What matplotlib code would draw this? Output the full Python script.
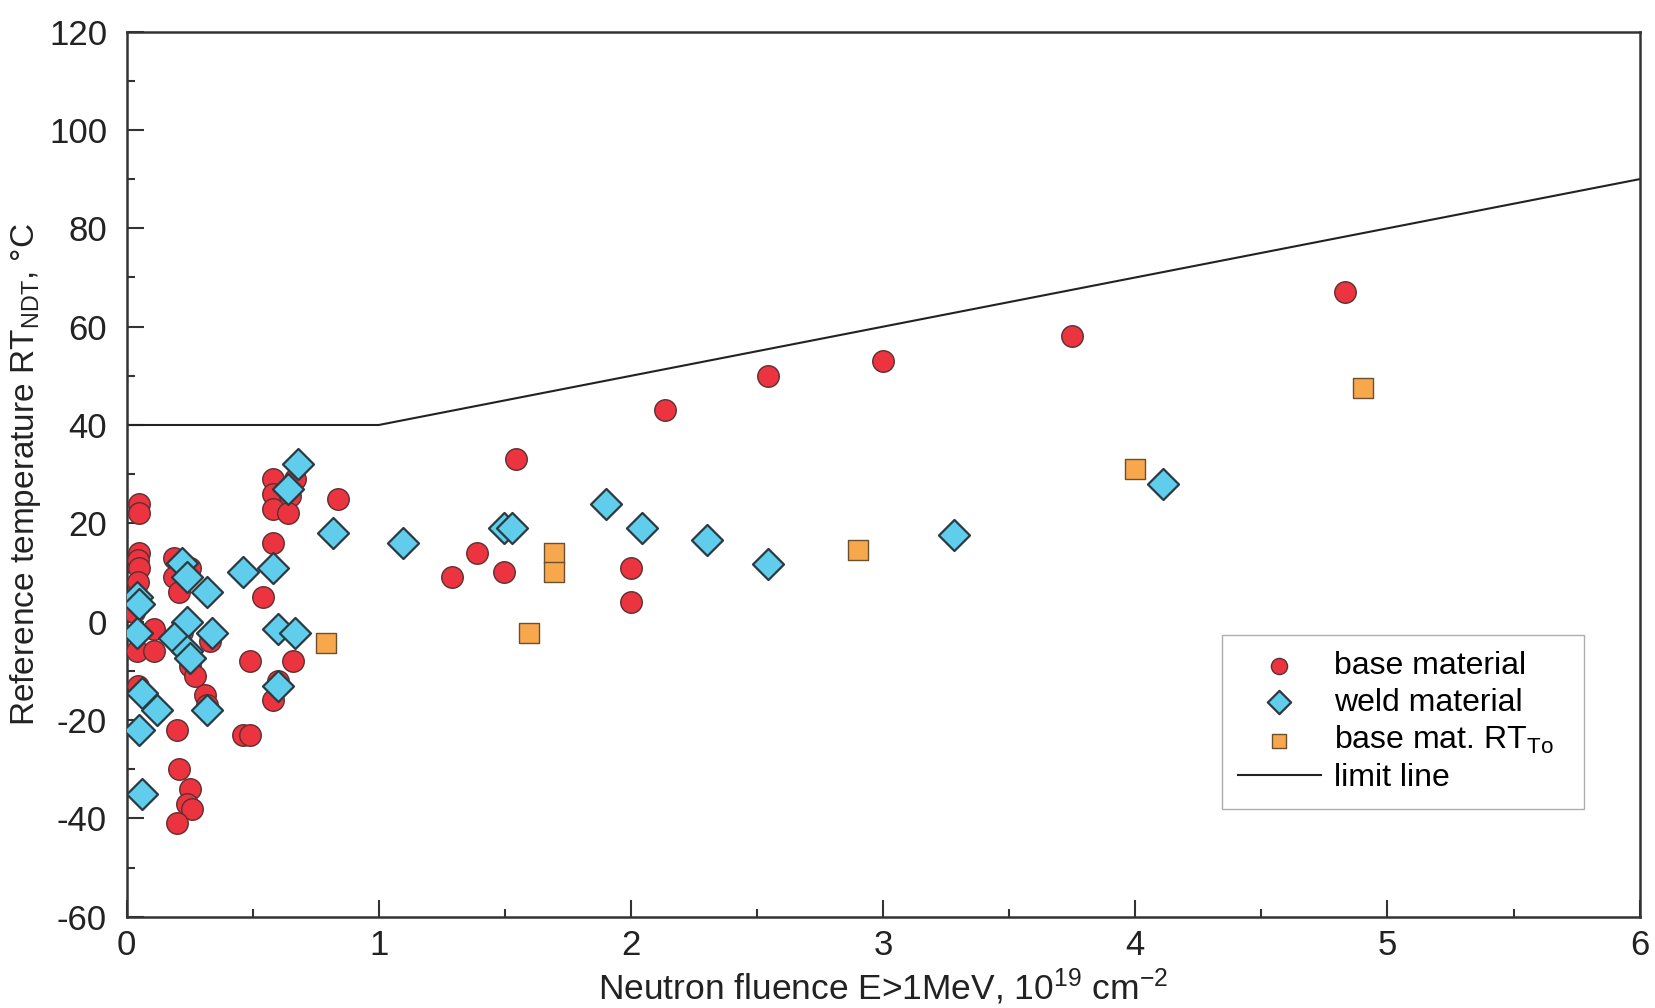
import matplotlib
matplotlib.use("Agg")
import matplotlib.pyplot as plt
from matplotlib.ticker import MultipleLocator

plt.rcParams['font.family'] = ['Liberation Sans', 'DejaVu Sans']
plt.rcParams['mathtext.fontset'] = 'custom'
plt.rcParams['mathtext.rm'] = 'Liberation Sans'
plt.rcParams['mathtext.it'] = 'Liberation Sans'
plt.rcParams['axes.unicode_minus'] = False

# base material (red circles)
base_x = [0.05, 0.05, 0.05, 0.045, 0.05, 0.045, 0.05, 0.03, 0.11, 0.04, 0.11, 0.045,
          0.19, 0.19, 0.25, 0.21, 0.22, 0.33, 0.25, 0.27, 0.31, 0.32, 0.20, 0.21,
          0.25, 0.24, 0.26, 0.20, 0.46, 0.49, 0.58, 0.67, 0.58, 0.65, 0.58, 0.64,
          0.84, 0.58, 0.54, 0.49, 0.66, 0.60, 0.58,
          1.545, 1.29, 1.39, 1.495, 2.0, 2.0, 2.135, 2.545, 3.0, 3.75, 4.83]
base_y = [24, 22, 14, 12.5, 11, 8, 4, 2, -1.5, -6, -6, -13,
          13, 9, 11, 6, -2, -4, -9, -11, -15, -17, -22, -30,
          -34, -37, -38, -41, -23, -23, 29, 29, 26, 25.5, 23, 22,
          25, 16, 5, -8, -8, -12, -16,
          33, 9, 14, 10, 11, 4, 43, 50, 53, 58, 67]

# weld material (cyan diamonds)
weld_x = [0.22, 0.24, 0.32, 0.04, 0.05, 0.04, 0.24, 0.19, 0.34, 0.24, 0.25, 0.06,
          0.12, 0.32, 0.05, 0.06, 0.46, 0.68, 0.64, 0.58, 0.60, 0.67, 0.60,
          0.82, 1.095, 1.495, 1.53, 1.9, 2.045, 2.3, 2.545, 3.28, 4.11]
weld_y = [12, 9, 6, 5, 3.5, -2.4, 0, -3.4, -2.4, -6, -7.4, -14.5,
          -18, -18, -22, -35, 10, 32, 27, 11, -1.4, -2.4, -13,
          18, 16, 19, 19, 24, 19, 16.6, 11.7, 17.6, 28]

# base material RT_To (orange squares)
rtto_x = [0.79, 1.595, 1.695, 1.695, 2.9, 4.0, 4.905]
rtto_y = [-4.4, -2.4, 14, 10, 14.6, 31, 47.6]

# limit line
limit_x = [0, 1, 6]
limit_y = [40, 40, 90]

fig = plt.figure(figsize=(16.56, 10.08), dpi=100)
ax = fig.add_axes([0.0764, 0.0906, 0.9137, 0.878])

ax.scatter(base_x, base_y, s=240, marker='o', facecolor='#EC3440',
           edgecolor='#5a3030', linewidths=1.0, zorder=3, label='base material')
ax.scatter(weld_x, weld_y, s=250, marker='D', facecolor='#5FCDEB',
           edgecolor='#2b3a40', linewidths=1.6, zorder=4, label='weld material')
ax.scatter(rtto_x, rtto_y, s=200, marker='s', facecolor='#F7A84D',
           edgecolor='#6b5030', linewidths=1.0, zorder=4,
           label=r'base mat. RT$_{\mathrm{To}}$')
ax.plot(limit_x, limit_y, color='#222222', lw=1.5, zorder=2, label='limit line')

ax.set_xlim(0, 6)
ax.set_ylim(-60, 120)
ax.xaxis.set_major_locator(MultipleLocator(1))
ax.xaxis.set_minor_locator(MultipleLocator(0.5))
ax.yaxis.set_major_locator(MultipleLocator(20))
ax.yaxis.set_minor_locator(MultipleLocator(10))
ax.tick_params(which='both', direction='in', top=False, right=False,
               color='#333333', width=1.5, labelsize=25, labelcolor='#222222')
ax.tick_params(axis='y', pad=14)
ax.tick_params(axis='x', pad=9)
ax.tick_params(which='major', length=12)
ax.tick_params(which='minor', length=6)
for sp in ax.spines.values():
    sp.set_color('#333333')
    sp.set_linewidth(1.8)

ax.set_xlabel(r'Neutron fluence E>1MeV, 10$^{19}$ cm$^{-2}$', fontsize=25.5,
              labelpad=3, color='#222222')
ax.set_ylabel(r'Reference temperature RT$_{\mathrm{NDT}}$, °C', fontsize=24,
              labelpad=4, color='#222222')

leg = ax.legend(loc='lower left', bbox_to_anchor=(0.724, 0.122, 0.239, 0.193),
                mode='expand', fontsize=23, frameon=True, fancybox=False,
                handlelength=2.6, handletextpad=0.4, borderpad=0.5,
                labelspacing=0.2, scatterpoints=1, markerscale=0.75,
                borderaxespad=0)
leg.get_frame().set_edgecolor('#999999')
leg.get_frame().set_linewidth(1.0)

fig.savefig('out.png', dpi=100, facecolor='white')
